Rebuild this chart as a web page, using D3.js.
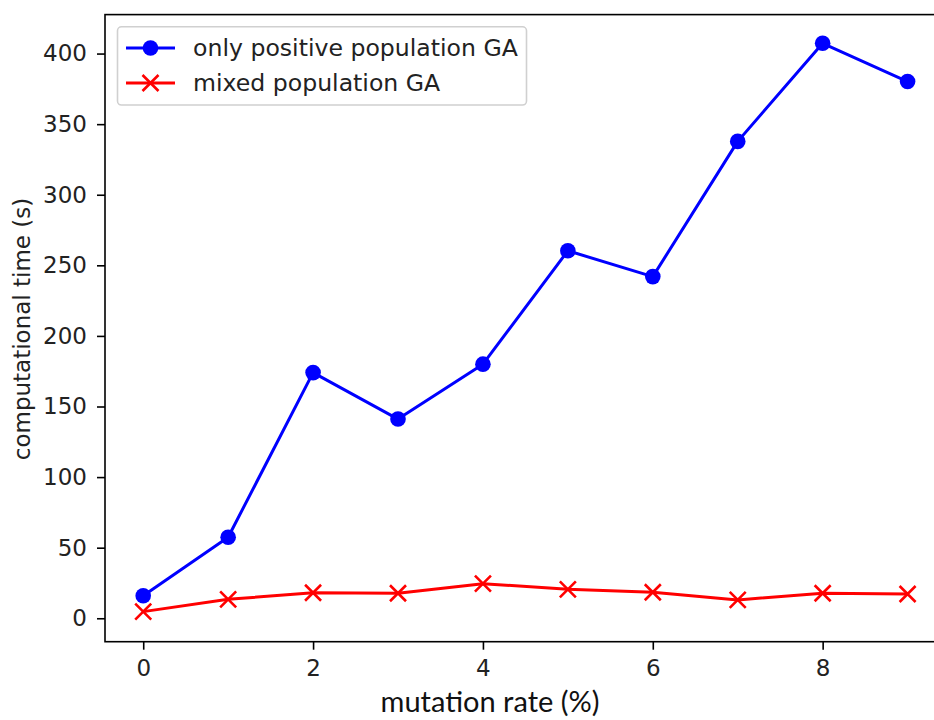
<!DOCTYPE html>
<html>
<head>
<meta charset="utf-8">
<script src="https://cdn.jsdelivr.net/npm/d3@7"></script>
<style>
  html, body { margin: 0; padding: 0; background: #fff; }
  svg { display: block; }
</style>
</head>
<body>
<script>
// ---- data ----
const mutationRates = [0, 1, 2, 3, 4, 5, 6, 7, 8, 9];
const positiveGA = [16.0, 57.4, 174.0, 141.1, 180.0, 260.3, 242.0, 337.8, 407.3, 380.2];
const mixedGA = [4.7, 13.4, 18.1, 17.7, 24.5, 20.5, 18.4, 13.0, 17.7, 17.2];
const xTicks = [0, 2, 4, 6, 8];
const yTicks = [0, 50, 100, 150, 200, 250, 300, 350, 400];
const seriesNames = ["only positive population GA", "mixed population GA"];
const xLabel = "mutation rate (%)";
const yLabel = "computational time (s)";

const W = 934, H = 720;
const svg = d3.select("body").append("svg").attr("width", W).attr("height", H);

const x = d3.scaleLinear().domain([-0.45, 9.45]).range([105, 945.8]);
const y = d3.scaleLinear().domain([-16.6, 427.6]).range([641.7, 14.6]);

const tickFont = "DejaVu Sans, sans-serif";

// frame
const fx0 = x.range()[0], fx1 = x.range()[1], fy0 = y.range()[1], fy1 = y.range()[0];
svg.append("rect").attr("x", fx0).attr("y", fy0).attr("width", fx1 - fx0).attr("height", fy1 - fy0)
  .attr("fill", "none").attr("stroke", "#000").attr("stroke-width", 1.6);

// x axis
const xAxis = d3.axisBottom(x).tickValues(xTicks).tickSize(8).tickPadding(10).tickFormat(d3.format("d"));
const gx = svg.append("g").attr("transform", `translate(0,${fy1})`).call(xAxis);
gx.select(".domain").remove();
gx.selectAll(".tick line").attr("stroke", "#000").attr("stroke-width", 1.6);
gx.selectAll(".tick text").attr("font-family", tickFont).attr("font-size", 23).attr("fill", "#222");

// y axis
const yAxis = d3.axisLeft(y).tickValues(yTicks).tickSize(8).tickPadding(10).tickFormat(d3.format("d"));
const gy = svg.append("g").attr("transform", `translate(${fx0},0)`).call(yAxis);
gy.select(".domain").remove();
gy.selectAll(".tick line").attr("stroke", "#000").attr("stroke-width", 1.6);
gy.selectAll(".tick text").attr("font-family", tickFont).attr("font-size", 23).attr("fill", "#222");

// axis labels
svg.append("text").attr("x", 490).attr("y", 712).attr("text-anchor", "middle")
  .attr("font-family", "Lato, 'Open Sans', sans-serif").attr("font-size", 29).attr("fill", "#111")
  .text(xLabel);
svg.append("text").attr("transform", `translate(30,329) rotate(-90)`).attr("text-anchor", "middle")
  .attr("font-family", tickFont).attr("font-size", 23).attr("fill", "#222")
  .text(yLabel);

const clip = svg.append("defs").append("clipPath").attr("id", "clip")
  .append("rect").attr("x", fx0).attr("y", fy0).attr("width", fx1 - fx0).attr("height", fy1 - fy0);
const plot = svg.append("g").attr("clip-path", "url(#clip)");

const line = d3.line().x((d, i) => x(mutationRates[i])).y(d => y(d));

// blue series
plot.append("path").datum(positiveGA).attr("d", line).attr("fill", "none")
  .attr("stroke", "#0000ff").attr("stroke-width", 3).attr("stroke-linejoin", "round");
plot.selectAll("circle.pos").data(positiveGA).enter().append("circle")
  .attr("class", "pos").attr("cx", (d, i) => x(mutationRates[i])).attr("cy", d => y(d))
  .attr("r", 7.8).attr("fill", "#0000ff");

// red series
plot.append("path").datum(mixedGA).attr("d", line).attr("fill", "none")
  .attr("stroke", "#ff0000").attr("stroke-width", 3).attr("stroke-linejoin", "round");
const s = 8;
function xMark(g, cx, cy) {
  g.append("path").attr("d", `M${cx - s},${cy - s}L${cx + s},${cy + s}M${cx - s},${cy + s}L${cx + s},${cy - s}`)
    .attr("stroke", "#ff0000").attr("stroke-width", 2.6).attr("fill", "none");
}
mixedGA.forEach((d, i) => xMark(plot, x(mutationRates[i]), y(d)));

// legend
const leg = svg.append("g");
leg.append("rect").attr("x", 117.5).attr("y", 26.8).attr("width", 409).attr("height", 78.2)
  .attr("rx", 4).attr("fill", "rgba(255,255,255,0.85)").attr("stroke", "#d0d0d0").attr("stroke-width", 1.6);
const rowsY = [48, 83];
// row 1
leg.append("line").attr("x1", 126).attr("x2", 175).attr("y1", rowsY[0]).attr("y2", rowsY[0])
  .attr("stroke", "#0000ff").attr("stroke-width", 3);
leg.append("circle").attr("cx", 150.5).attr("cy", rowsY[0]).attr("r", 7.8).attr("fill", "#0000ff");
// row 2
leg.append("line").attr("x1", 126).attr("x2", 175).attr("y1", rowsY[1]).attr("y2", rowsY[1])
  .attr("stroke", "#ff0000").attr("stroke-width", 3);
xMark(leg, 150.5, rowsY[1]);
seriesNames.forEach((n, i) => {
  leg.append("text").attr("x", 193).attr("y", rowsY[i] + 8).attr("font-family", tickFont)
    .attr("font-size", 23.6).attr("fill", "#222").text(n);
});
</script>
</body>
</html>
